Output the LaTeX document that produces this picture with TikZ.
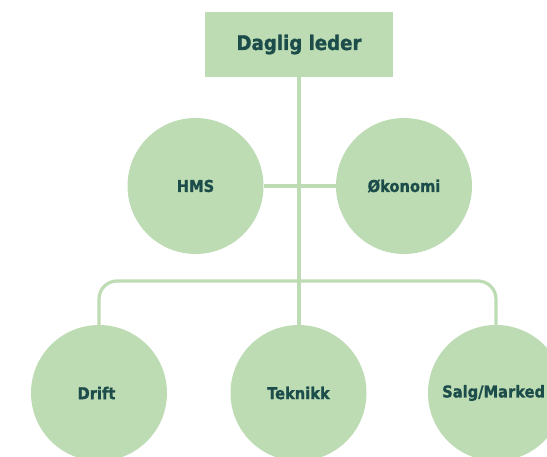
\documentclass[tikz,border=0pt]{standalone}
\usepackage{fontspec}
\setmainfont{DejaVu Sans Condensed}[BoldFeatures={FakeBold=1.2}]
\definecolor{leaf}{HTML}{BEDCB4}
\definecolor{ink}{HTML}{1C4D4A}
\tikzset{
  labelfont/.style={text=ink, font=\fontsize{16.3}{19}\selectfont\bfseries},
  unit/.style={circle, fill=leaf, minimum size=136pt, inner sep=0pt, labelfont},
  headbox/.style={rectangle, fill=leaf, minimum width=188pt, minimum height=65pt, inner sep=0pt, text=ink, font=\fontsize{20.2}{23}\selectfont\bfseries},
  link/.style={draw=leaf, line width=3.2pt}
}
\begin{document}
\begin{tikzpicture}[x=1pt,y=-1pt]
\useasboundingbox (0,0) rectangle (547,456);
\clip (0,0) rectangle (547,456);
\node[headbox] (top) at (299,44.5) {Daglig leder};
\node[unit] (hms) at (195.5,186) {HMS};
\node[unit] (oko) at (404,186) {Økonomi};
\node[unit] (drift) at (99,393) {\hspace*{-5pt}Drift};
\node[unit] (tek) at (298.5,393) {Teknikk};
\node[unit] (salg) at (496,393) {};
\node[labelfont, anchor=west, inner sep=0pt] (salgtxt) at (442,393) {Salg/Marked};
\coordinate (bus) at (299,281);
\draw[link] (top.south) -- (top.south |- tek.north);
\draw[link] (hms.east) -- (oko.west);
\draw[link, rounded corners=18pt] (drift.north) |- (bus) -| (salg.north);
\end{tikzpicture}
\end{document}
